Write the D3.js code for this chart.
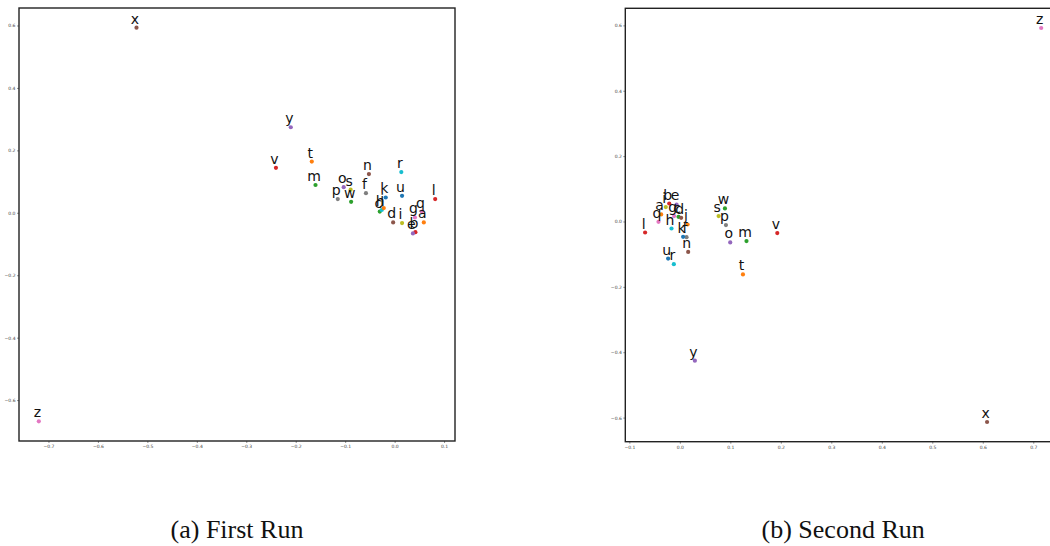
<!DOCTYPE html>
<html lang="en">
<head>
    <meta charset="UTF-8">
    <title>Word embeddings - two runs</title>
    <style>
        body { margin: 0; background: #fff; }
        svg { display: block; }
        .tick text { font-family: "DejaVu Sans", sans-serif; font-size: 4.5px; fill: #444; }
        .word { font-family: "DejaVu Sans", sans-serif; font-size: 14px; fill: #111; }
        .caption { font-family: "Liberation Serif", "DejaVu Serif", serif; font-size: 26px; fill: #111; }
    </style>
</head>
<body>
<div id="chart"></div>
<script src="https://cdnjs.cloudflare.com/ajax/libs/d3/7.8.5/d3.min.js"></script>
<script>
    // letters plotted in each run
    const words = ["a", "b", "c", "d", "e", "f", "g", "h", "i", "j", "k", "l", "m",
        "n", "o", "p", "q", "r", "s", "t", "u", "v", "w", "x", "y", "z"];

    const wordColors = ["#ff7f0e", "#d62728", "#2ca02c", "#8c564b", "#9467bd", "#7f7f7f", "#e377c2",
        "#17becf", "#bcbd22", "#ff7f0e", "#1f77b4", "#d62728", "#2ca02c", "#8c564b", "#9467bd",
        "#7f7f7f", "#e377c2", "#17becf", "#bcbd22", "#ff7f0e", "#1f77b4", "#d62728", "#2ca02c",
        "#8c564b", "#9467bd", "#e377c2"];

    // (a) first run
    const run1X = [0.059, 0.042, -0.030, -0.003, 0.037, -0.058, 0.041, -0.026, 0.015, -0.022, -0.018, 0.082, -0.160,
        -0.052, -0.103, -0.115, 0.055, 0.0135, -0.089, -0.1675, 0.015, -0.240, -0.088, -0.522, -0.210, -0.7195];
    const run1Y = [-0.031, -0.062, 0.004, -0.031, -0.066, 0.063, -0.015, 0.009, -0.033, 0.015, 0.049, 0.044, 0.089,
        0.124, 0.082, 0.044, 0.004, 0.1305, 0.074, 0.164, 0.0545, 0.144, 0.035, 0.593, 0.274, -0.668];

    // (b) second run
    const run2X = [-0.037, -0.021, -0.0026, 0.0026, -0.0065, 0.0133, -0.0113, -0.0165, -0.0278, 0.0153, 0.0065, -0.0688, 0.132,
        0.0165, 0.0998, 0.0913, -0.0423, -0.0119, 0.0768, 0.125, -0.0232, 0.193, 0.0893, 0.6085, 0.0298, 0.7157];
    const run2Y = [0.0215, 0.055, 0.0144, 0.0113, 0.052, -0.048, 0.0166, -0.0215, 0.044, -0.0092, -0.047, -0.0337, -0.060,
        -0.093, -0.064, -0.011, -0.001, -0.1307, 0.0166, -0.162, -0.1135, -0.0356, 0.040, -0.6135, -0.426, 0.592];

    const xTicks1 = [-0.7, -0.6, -0.5, -0.4, -0.3, -0.2, -0.1, 0.0, 0.1];
    const xTicks2 = [-0.1, 0.0, 0.1, 0.2, 0.3, 0.4, 0.5, 0.6, 0.7];
    const yTicks = [-0.6, -0.4, -0.2, 0.0, 0.2, 0.4, 0.6];

    const W = 1050, H = 546;
    const svg = d3.select("#chart").append("svg")
        .attr("width", W)
        .attr("height", H);

    const fmt = v => d3.format(".1f")(v).replace("-", "\u2212");

    // matplotlib style 5% padding around data
    function padded(vals) {
        const [lo, hi] = d3.extent(vals);
        const m = (hi - lo) * 0.05;
        return [lo - m, hi + m];
    }

    function drawPanel(box, xs, ys, xTicks, caption) {
        const g = svg.append("g");
        const x = d3.scaleLinear().domain(padded(xs)).range([box.left, box.right]);
        const y = d3.scaleLinear().domain(padded(ys)).range([box.bottom, box.top]);

        g.append("g")
            .attr("transform", "translate(0," + box.bottom + ")")
            .call(d3.axisBottom(x).tickValues(xTicks).tickFormat(fmt).tickSize(2).tickPadding(2))
            .call(a => a.select(".domain").remove())
            .call(a => a.selectAll("line").attr("stroke", "#444").attr("stroke-width", 0.6));

        g.append("g")
            .attr("transform", "translate(" + box.left + ",0)")
            .call(d3.axisLeft(y).tickValues(yTicks).tickFormat(fmt).tickSize(2).tickPadding(1.5))
            .call(a => a.select(".domain").remove())
            .call(a => a.selectAll("line").attr("stroke", "#444").attr("stroke-width", 0.6));

        g.append("rect")
            .attr("x", box.left)
            .attr("y", box.top)
            .attr("width", box.right - box.left)
            .attr("height", box.bottom - box.top)
            .attr("fill", "none")
            .attr("stroke", "#222")
            .attr("stroke-width", 1.4);

        const idx = d3.range(words.length);

        g.append("g")
            .selectAll("circle")
            .data(idx)
            .enter()
            .append("circle")
            .attr("cx", i => x(xs[i]))
            .attr("cy", i => y(ys[i]))
            .attr("r", 2.1)
            .attr("fill", i => wordColors[i]);

        g.append("g")
            .selectAll("text")
            .data(idx)
            .enter()
            .append("text")
            .attr("class", "word")
            .attr("x", i => x(xs[i]) - 1.5)
            .attr("y", i => y(ys[i]) - 4)
            .attr("text-anchor", "middle")
            .text(i => words[i]);

        svg.append("text")
            .attr("class", "caption")
            .attr("x", (box.left + box.right) / 2)
            .attr("y", 538)
            .attr("text-anchor", "middle")
            .text(caption);
    }

    drawPanel({ left: 19, right: 455, top: 8, bottom: 441 }, run1X, run1Y, xTicks1, "(a) First Run");
    drawPanel({ left: 625.3, right: 1061, top: 8.3, bottom: 441.7 }, run2X, run2Y, xTicks2, "(b) Second Run");
</script>
</body>
</html>
